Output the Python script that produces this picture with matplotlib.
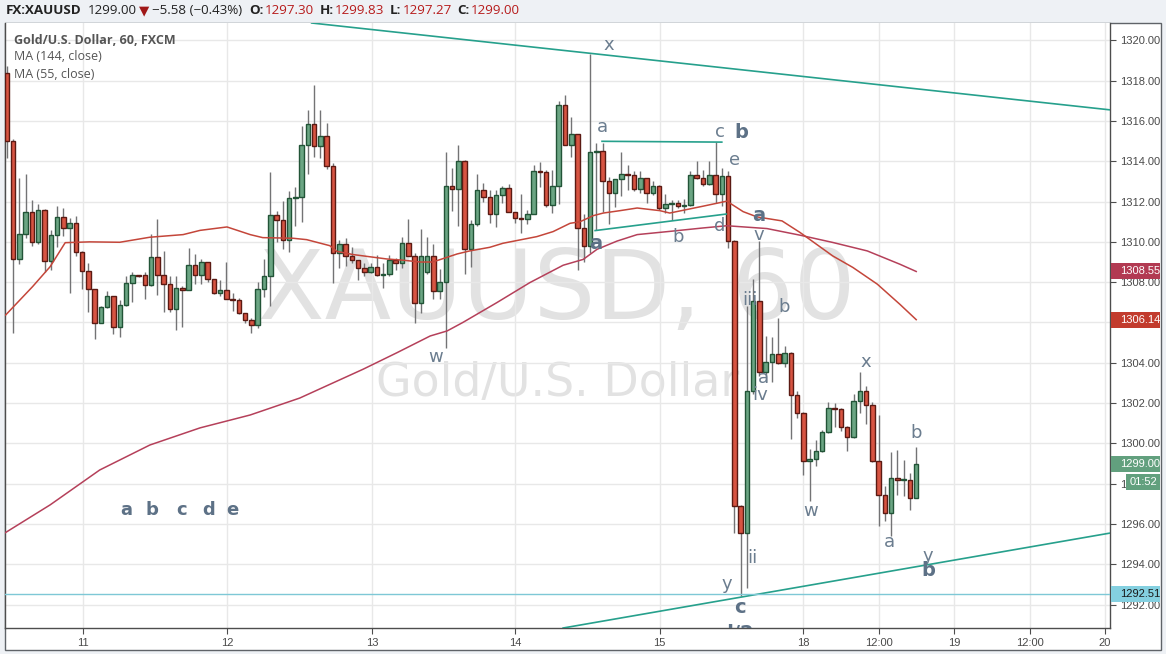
import matplotlib
matplotlib.use("Agg")
import matplotlib.pyplot as plt
from matplotlib.patches import Rectangle

# ---------------- data (hourly candles, index 0..145) ----------------
opens = [1318.36, 1315.00, 1309.13, 1310.39, 1311.47, 1310.01, 1311.58, 1309.07, 1310.32, 1311.22,
         1310.67, 1310.92, 1309.51, 1308.54, 1307.64, 1305.99, 1306.78, 1307.30, 1305.79, 1306.85,
         1307.94, 1308.34, 1308.34, 1307.84, 1309.25, 1308.36, 1307.91, 1306.67, 1307.71, 1307.60,
         1308.85, 1308.36, 1309.00, 1308.16, 1307.46, 1307.61, 1307.17, 1307.10, 1306.47, 1306.12,
         1305.88, 1307.66, 1308.31, 1311.33, 1311.09, 1310.10, 1312.18, 1312.23, 1314.81, 1315.85,
         1314.76, 1315.26, 1313.78, 1309.45, 1309.90, 1309.32, 1309.10, 1308.70, 1308.50, 1308.75,
         1308.36, 1308.41, 1309.12, 1308.95, 1309.95, 1309.28, 1306.97, 1308.50, 1309.30, 1307.55,
         1308.01, 1312.77, 1312.63, 1314.02, 1309.65, 1310.89, 1312.58, 1312.22, 1311.37, 1312.31,
         1312.66, 1311.47, 1311.17, 1311.12, 1311.37, 1313.50, 1313.47, 1311.81, 1312.77, 1316.78,
         1314.79, 1315.34, 1310.67, 1309.80, 1314.45, 1314.50, 1313.01, 1312.41, 1313.10, 1313.39,
         1313.32, 1312.63, 1313.17, 1312.43, 1312.79, 1311.68, 1311.88, 1311.93, 1311.77, 1311.83,
         1313.32, 1313.17, 1312.87, 1313.32, 1312.36, 1313.27, 1310.05, 1296.90, 1295.57, 1302.60,
         1307.07, 1303.52, 1304.06, 1304.46, 1304.01, 1304.51, 1302.39, 1301.53, 1299.13, 1299.21,
         1299.60, 1300.59, 1301.78, 1301.73, 1300.82, 1300.32, 1302.11, 1302.61, 1301.91, 1299.13,
         1297.43, 1296.57, 1298.30, 1298.17, 1298.20, 1297.30]
highs = [1318.73, 1315.10, 1313.19, 1313.35, 1312.08, 1311.88, 1311.65, 1310.59, 1311.78, 1311.70,
         1311.17, 1311.30, 1309.55, 1308.97, 1307.68, 1306.80, 1307.58, 1307.32, 1307.10, 1308.30,
         1308.52, 1308.36, 1308.52, 1310.39, 1311.13, 1309.57, 1308.30, 1308.30, 1307.80, 1309.70,
         1309.42, 1309.15, 1309.02, 1308.18, 1308.13, 1309.02, 1307.46, 1307.22, 1306.49, 1306.20,
         1308.00, 1309.17, 1313.49, 1311.55, 1312.05, 1312.50, 1312.70, 1315.77, 1316.56, 1317.80,
         1316.55, 1315.90, 1313.90, 1310.08, 1310.18, 1309.73, 1309.12, 1308.95, 1308.95, 1309.37,
         1308.95, 1309.37, 1309.20, 1310.23, 1311.15, 1309.45, 1310.66, 1310.23, 1309.91, 1308.65,
         1314.48, 1313.68, 1314.83, 1314.05, 1311.10, 1313.38, 1312.93, 1312.58, 1312.58, 1312.77,
         1312.87, 1311.49, 1312.38, 1311.58, 1313.80, 1313.97, 1313.57, 1313.57, 1316.99, 1317.29,
         1316.22, 1315.36, 1311.37, 1319.32, 1314.89, 1314.93, 1313.20, 1313.10, 1314.46, 1313.83,
         1313.50, 1313.50, 1313.19, 1313.00, 1312.81, 1312.38, 1312.10, 1312.10, 1312.15, 1313.50,
         1314.00, 1313.58, 1314.00, 1314.94, 1313.67, 1313.50, 1310.07, 1296.92, 1306.82, 1308.18,
         1310.05, 1305.33, 1305.28, 1306.21, 1304.84, 1304.53, 1302.60, 1301.55, 1299.71, 1300.17,
         1300.65, 1302.06, 1301.99, 1301.75, 1300.84, 1302.44, 1303.52, 1302.85, 1302.06, 1301.40,
         1297.89, 1299.55, 1299.68, 1299.17, 1298.52, 1299.83]
lows = [1314.15, 1305.46, 1308.90, 1310.20, 1309.81, 1309.90, 1308.49, 1308.60, 1309.76, 1310.30,
        1307.45, 1309.30, 1307.68, 1306.50, 1305.16, 1305.96, 1306.70, 1305.43, 1305.30, 1306.80,
        1307.03, 1308.28, 1307.18, 1307.80, 1307.36, 1306.52, 1306.52, 1305.64, 1305.80, 1307.60,
        1307.90, 1307.90, 1308.00, 1307.43, 1307.30, 1307.17, 1306.55, 1306.40, 1305.97, 1305.50,
        1305.73, 1307.27, 1306.80, 1310.01, 1309.66, 1309.48, 1310.80, 1311.00, 1313.35, 1314.20,
        1314.15, 1313.60, 1307.96, 1308.70, 1308.79, 1308.95, 1308.10, 1308.29, 1308.46, 1308.29,
        1307.70, 1308.29, 1308.62, 1308.70, 1309.28, 1305.98, 1306.47, 1308.40, 1307.17, 1307.17,
        1304.73, 1311.52, 1310.77, 1308.41, 1308.74, 1310.77, 1311.96, 1310.95, 1310.72, 1311.95,
        1311.47, 1310.95, 1310.43, 1310.87, 1311.37, 1312.74, 1311.72, 1311.45, 1311.87, 1314.79,
        1314.20, 1308.60, 1309.02, 1309.43, 1310.59, 1311.48, 1310.90, 1311.75, 1312.28, 1312.56,
        1312.50, 1312.43, 1311.93, 1312.34, 1311.60, 1311.43, 1311.10, 1311.68, 1311.43, 1311.80,
        1313.10, 1312.76, 1312.80, 1311.93, 1311.80, 1309.70, 1295.57, 1292.43, 1292.80, 1302.44,
        1303.35, 1303.05, 1303.05, 1303.96, 1303.80, 1300.24, 1301.28, 1298.42, 1297.15, 1298.88,
        1299.55, 1300.54, 1300.82, 1300.62, 1299.60, 1300.27, 1301.53, 1300.95, 1299.10, 1295.91,
        1296.15, 1295.40, 1297.43, 1297.40, 1296.70, 1297.27]
closes = [1315.00, 1309.13, 1310.39, 1311.47, 1310.01, 1311.58, 1309.07, 1310.32, 1311.22, 1310.67,
          1310.92, 1309.51, 1308.54, 1307.64, 1305.99, 1306.78, 1307.30, 1305.79, 1306.85, 1307.94,
          1308.34, 1308.30, 1307.84, 1309.25, 1308.35, 1307.91, 1306.67, 1307.71, 1307.60, 1308.85,
          1308.36, 1309.00, 1308.16, 1307.46, 1307.61, 1307.17, 1307.10, 1306.47, 1306.12, 1305.88,
          1307.66, 1308.31, 1311.33, 1311.09, 1310.10, 1312.18, 1312.23, 1314.81, 1315.85, 1314.76,
          1315.26, 1313.78, 1309.45, 1309.90, 1309.32, 1309.10, 1308.70, 1308.50, 1308.75, 1308.36,
          1308.41, 1309.12, 1308.95, 1309.95, 1309.28, 1306.97, 1309.30, 1309.30, 1307.55, 1308.01,
          1312.77, 1312.63, 1314.02, 1309.65, 1310.89, 1312.58, 1312.22, 1311.37, 1312.31, 1312.66,
          1311.47, 1311.17, 1311.12, 1311.37, 1313.50, 1313.47, 1311.81, 1312.77, 1316.78, 1314.79,
          1315.34, 1310.67, 1309.80, 1314.45, 1314.50, 1313.01, 1312.41, 1313.10, 1313.39, 1313.32,
          1312.63, 1313.17, 1312.43, 1312.79, 1311.68, 1311.88, 1311.93, 1311.77, 1311.83, 1313.32,
          1313.17, 1312.87, 1313.32, 1312.36, 1313.27, 1310.05, 1296.90, 1295.57, 1302.60, 1307.07,
          1303.52, 1304.06, 1304.46, 1304.01, 1304.51, 1302.39, 1301.53, 1299.13, 1299.21, 1299.60,
          1300.59, 1301.78, 1301.73, 1300.82, 1300.32, 1302.11, 1302.61, 1301.91, 1299.13, 1297.43,
          1296.57, 1298.30, 1298.17, 1298.20, 1297.30, 1299.00]

# moving averages (bar index, value)
ma55_idx = [-0.2, 4.1, 6.9, 9.3, 13.2, 18.0, 22.8, 28.1, 30.8, 35.1, 38.8, 40.8, 45.6, 47.8, 51.5,
            52.6, 55.2, 60.6, 63.2, 65.9, 67.9, 71.8, 73.8, 77.0, 79.1, 84.5, 87.1, 89.8, 91.4, 93.5,
            95.1, 97.8, 100.5, 104.1, 105.7, 111.0, 114.8, 117.4, 119.6, 123.6, 126.5, 131.7, 134.9,
            138.8, 142.4, 145.0]
ma55_val = [1306.37, 1307.78, 1308.77, 1309.96, 1310.00, 1309.98, 1310.23, 1310.36, 1310.57, 1310.74,
            1310.36, 1310.21, 1310.18, 1310.11, 1309.81, 1309.53, 1309.37, 1309.15, 1309.09, 1309.00,
            1309.00, 1309.40, 1309.55, 1309.73, 1309.93, 1310.26, 1310.51, 1310.92, 1311.00, 1311.30,
            1311.43, 1311.55, 1311.68, 1311.55, 1311.43, 1311.77, 1312.02, 1311.50, 1311.24, 1311.04,
            1310.46, 1309.30, 1308.73, 1307.90, 1306.90, 1306.14]
ma144_idx = [-0.3, 6.9, 14.8, 22.8, 30.8, 38.8, 46.7, 51.5, 56.8, 62.2, 67.5, 70.2, 72.7, 78.1, 83.4,
             88.7, 91.9, 94.1, 97.3, 100.5, 105.7, 111.0, 114.8, 121.2, 126.5, 131.7, 137.2, 142.4, 145.0]
ma144_val = [1295.56, 1296.95, 1298.68, 1299.92, 1300.77, 1301.41, 1302.25, 1302.93, 1303.68, 1304.50,
             1305.33, 1305.58, 1306.00, 1306.98, 1307.98, 1308.84, 1309.13, 1309.63, 1310.04, 1310.36,
             1310.52, 1310.69, 1310.80, 1310.66, 1310.33, 1309.97, 1309.55, 1308.89, 1308.53]

x_tick_pos = [12.1, 35.1, 58.2, 81.0, 104.1, 127.0, 139.1, 151.0, 163.2, 175.1]
x_tick_labels = ['11', '12', '13', '14', '15', '18', '12:00', '19', '12:00', '20']
y_ticks = list(range(1292, 1321, 2))

# drawn trendlines: ((x0, y0), (x1, y1))
trend_lines = [((48.6, 1320.86), (175.9, 1316.55)),
               ((88.7, 1290.84), (175.9, 1295.55)),
               ((94.9, 1314.99), (114.0, 1314.95)),
               ((93.8, 1310.56), (114.7, 1311.38))]
support_level = 1292.51

# wave labels: (text, x, price, bold)
wave_labels = [("x", 96.0, 1319.77, False), ("a", 94.9, 1315.70, False), ("c", 113.7, 1315.45, False),
               ("b", 117.1, 1315.45, True), ("e", 116.0, 1314.06, False), ("a", 93.9, 1309.90, True),
               ("b", 107.0, 1310.24, False), ("d", 113.7, 1310.79, False), ("a", 119.9, 1311.29, True),
               ("v", 119.9, 1310.34, False), ("iii", 118.5, 1307.12, False), ("b", 123.9, 1306.77, False),
               ("a", 120.7, 1303.25, False), ("iv", 120.1, 1302.40, False), ("w", 68.3, 1304.29, False),
               ("x", 137.0, 1304.04, False), ("b", 145.0, 1300.52, False), ("w", 128.2, 1296.64, False),
               ("ii", 118.8, 1294.31, False), ("a", 140.8, 1295.11, False), ("y", 146.9, 1294.41, False),
               ("b", 146.9, 1293.67, True), ("y", 114.8, 1293.02, False), ("c", 116.9, 1291.88, True),
               ("d/2", 116.3, 1290.55, True)]
abc_labels = [("a", 19.0), ("b", 23.1), ("c", 27.9), ("d", 32.1), ("e", 36.0)]
abc_price = 1296.69

# ---------------- figure ----------------
W, H = 1166, 654
fig = plt.figure(figsize=(W / 100, H / 100), dpi=100)
fig.patch.set_facecolor('#eef1f5')


def fx(px):
    return px / W


def fy(py):
    return 1 - py / H


fig.patches.append(Rectangle((fx(4.5), fy(650)), fx(1161) - fx(4.5), fy(22.5) - fy(650),
                             transform=fig.transFigure, facecolor='white', edgecolor='#5f6368',
                             lw=1.0, zorder=-5))

ax = fig.add_axes([fx(5), fy(628), fx(1110) - fx(5), fy(23) - fy(628)])
ax.set_zorder(1)
ax.set_xlim(-0.3, 175.9)
ax.set_ylim(1290.84, 1320.86)
ax.set_facecolor('white')
ax.spines['top'].set_visible(False)
for s in ['left', 'right', 'bottom']:
    ax.spines[s].set_color('#4d4d4d')
    ax.spines[s].set_linewidth(1.0)

ax.set_xticks(x_tick_pos)
ax.set_xticklabels(x_tick_labels, fontfamily='Liberation Sans', fontsize=8, color='#4a4a4a')
ax.set_yticks(y_ticks)
ax.set_yticklabels([f"{v:.2f}" for v in y_ticks], fontfamily='Liberation Sans', fontsize=8,
                   color='#4a4a4a')
ax.yaxis.tick_right()
ax.tick_params(axis='both', direction='out', length=4, width=0.8, color='#4d4d4d', pad=3)
ax.grid(True, color='#e8e8e8', lw=1.0)
ax.set_axisbelow(True)

# watermark
ax.text(fx(557), fy(292), "XAUUSD, 60", transform=fig.transFigure, ha='center', va='center',
        fontsize=70, color='#e2e2e2', zorder=0.5, fontfamily='DejaVu Sans')
ax.text(fx(558), fy(383), "Gold/U.S. Dollar", transform=fig.transFigure, ha='center', va='center',
        fontsize=33, color='#e2e2e2', zorder=0.5, fontfamily='DejaVu Sans')

# candles
up_fill, up_edge = '#6ba583', '#225437'
dn_fill, dn_edge = '#d75442', '#5b1a13'
idx = list(range(len(opens)))
ax.vlines(idx, lows, highs, color='#737375', lw=1.0, zorder=2)
for i in idx:
    o, c = opens[i], closes[i]
    up = c >= o
    h = max(abs(c - o), 0.05)
    ax.bar(i, h, bottom=min(o, c), width=0.72, color=up_fill if up else dn_fill,
           edgecolor=up_edge if up else dn_edge, lw=1.0, zorder=3)

# moving averages
ax.plot(ma144_idx, ma144_val, color='#b5405a', lw=1.1, zorder=4)
ax.plot(ma55_idx, ma55_val, color='#c4463a', lw=1.1, zorder=4)

# trend lines
for (x0, y0), (x1, y1) in trend_lines:
    ax.plot([x0, x1], [y0, y1], color='#26a08c', lw=1.2, zorder=5)
ax.axhline(support_level, color='#7ec8d6', lw=1.0, zorder=5)

# wave labels
lab_col = '#6b7d8f'
for t, x, y, b in wave_labels:
    ax.text(x, y, t, ha='center', va='center', fontsize=13 if not b else 14,
            fontweight='bold' if b else 'normal', color='#5d7186' if b else lab_col,
            zorder=6, clip_on=True, fontfamily='DejaVu Sans')
for t, x in abc_labels:
    ax.text(x, abc_price, t, ha='center', va='center', fontsize=13, fontweight='bold',
            color='#5d7186', zorder=6, fontfamily='DejaVu Sans')

# legend texts
ax.text(fx(14), fy(41), "Gold/U.S. Dollar, 60, FXCM", transform=fig.transFigure, ha='left',
        va='center', fontsize=9, fontweight='bold', color='#555555', fontfamily='Open Sans', zorder=7)
ax.text(fx(14), fy(57), "MA (144, close)", transform=fig.transFigure, ha='left', va='center',
        fontsize=9, color='#555555', fontfamily='Open Sans', zorder=7)
ax.text(fx(14), fy(74), "MA (55, close)", transform=fig.transFigure, ha='left', va='center',
        fontsize=9, color='#555555', fontfamily='Open Sans', zorder=7)

# header, pieces chained left to right with measured widths
hy = fy(10.5)
hdr = [("FX:XAUUSD", 'bold', '#222222', 6), ("1299.00", 'normal', '#222222', 2),
       ("▼", 'normal', '#a01818', 3), ("\u22125.58 (\u22120.43%)", 'normal', '#222222', 7),
       ("O:", 'bold', '#222222', 1), ("1297.30", 'normal', '#b71c1c', 6),
       ("H:", 'bold', '#222222', 1), ("1299.83", 'normal', '#b71c1c', 6),
       ("L:", 'bold', '#222222', 1), ("1297.27", 'normal', '#b71c1c', 6),
       ("C:", 'bold', '#222222', 1), ("1299.00", 'normal', '#b71c1c', 0)]
renderer = fig.canvas.get_renderer()
cur = 6.0
for t, w, col, gap in hdr:
    tx = fig.text(fx(cur), hy, t, ha='left', va='center', fontsize=9.6, fontweight=w, color=col,
                  fontfamily=['Open Sans', 'DejaVu Sans'])
    cur += tx.get_window_extent(renderer).width + gap

# price boxes on the scale
boxes = [(1308.55, "1308.55", '#b23a52', 'white'),
         (1306.14, "1306.14", '#c23b2d', 'white'),
         (1299.00, "1299.00", '#62a07e', 'white'),
         (support_level, "1292.51", '#84d0e0', '#1a1a1a')]
for val, t, fc, tc in boxes:
    ypx = ax.transData.transform((0, val))[1] / H
    fig.patches.append(Rectangle((fx(1111), ypx - 8 / H), fx(1160) - fx(1111), 16 / H,
                                 transform=fig.transFigure, facecolor=fc, edgecolor='none', zorder=5))
    fig.text(fx(1120), ypx, t, ha='left', va='center', fontsize=8, color=tc,
             fontfamily='Liberation Sans', zorder=6)
fig.patches.append(Rectangle((fx(1126), fy(490)), fx(1160) - fx(1126), 16 / H,
                             transform=fig.transFigure, facecolor='#62a07e', edgecolor='none', zorder=5))
fig.text(fx(1143), fy(482), "01:52", ha='center', va='center', fontsize=8, color='white',
         fontfamily='Liberation Sans', zorder=6)

fig.savefig("out.png", dpi=100, facecolor=fig.get_facecolor())
